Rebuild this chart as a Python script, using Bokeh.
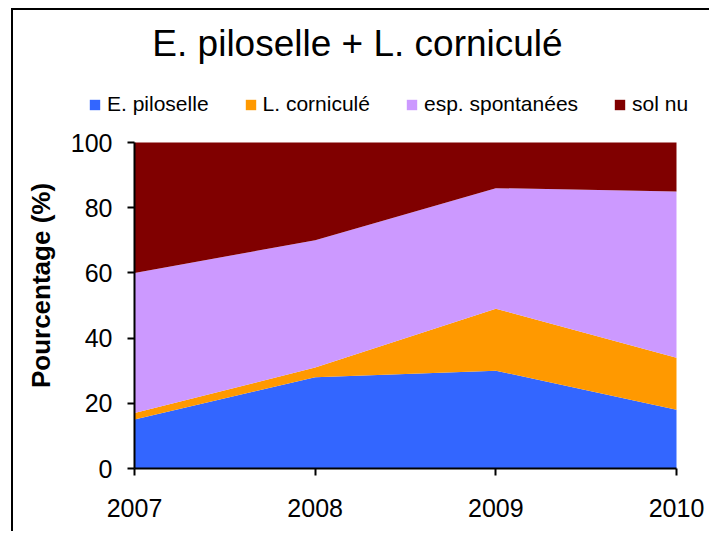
from bokeh.plotting import figure
from bokeh.models import ColumnDataSource, Range1d, Label
from bokeh.embed import file_html
from bokeh.resources import INLINE
import math

# ---- data ----
years = [2007, 2008, 2009, 2010]
piloselle = [15, 28, 30, 18]
lotier = [2, 3, 19, 16]
spontanees = [43, 39, 37, 51]
sol_nu = [40, 30, 14, 15]
series_names = ["E. piloselle", "L. corniculé", "esp. spontanées", "sol nu"]
series_keys = ["piloselle", "lotier", "spontanees", "sol_nu"]
colors = ["#3366FF", "#FF9900", "#CC99FF", "#800000"]
y_ticks = [0, 20, 40, 60, 80, 100]
y_min, y_max = 0, 100
title_text = "E. piloselle + L. corniculé"
y_label = "Pourcentage (%)"

FONT = "Liberation Sans"

# ---- layout (pixels on the canvas; the frame covers the whole canvas) ----
W, H = 698, 523
AX_LEFT, AX_RIGHT = 121, 663   # where the first / last year sit
AX_TOP, AX_BOTTOM = 132, 458   # where y = 100 / y = 0 sit
px_per_year = (AX_RIGHT - AX_LEFT) / (years[-1] - years[0])
px_per_unit = (AX_BOTTOM - AX_TOP) / (y_max - y_min)

x_start = years[0] - AX_LEFT / px_per_year
x_end = years[-1] + (W - AX_RIGHT) / px_per_year
y_start = y_min - (H - AX_BOTTOM) / px_per_unit
y_end = y_min + AX_BOTTOM / px_per_unit


def y_at(py):
    """data y of a canvas pixel row"""
    return y_min + (AX_BOTTOM - py) / px_per_unit


source = ColumnDataSource(dict(x=years, piloselle=piloselle, lotier=lotier,
                               spontanees=spontanees, sol_nu=sol_nu))

p = figure(width=W, height=H,
           x_range=Range1d(x_start, x_end), y_range=Range1d(y_start, y_end),
           output_backend="svg", toolbar_location=None,
           min_border_left=0, min_border_right=0,
           min_border_top=0, min_border_bottom=0,
           styles={"margin-left": "11px", "margin-top": "8px",
                   "border-left": "2px solid black",
                   "border-top": "2px solid black"})

p.varea_stack(stackers=series_keys, x="x", color=colors, source=source,
              legend_label=series_names)

# axes
for ax in (p.xaxis[0], p.yaxis[0]):
    ax.axis_line_color = "black"
    ax.axis_line_width = 2
    ax.major_tick_line_color = "black"
    ax.major_tick_line_width = 2
    ax.major_tick_out = 7
    ax.major_tick_in = 0
    ax.minor_tick_line_color = None
    ax.major_label_text_font = FONT
    ax.major_label_text_color = "black"
    ax.major_label_text_font_size = "25px"

p.xaxis.ticker = years
p.xaxis.bounds = (years[0], years[-1])
p.xaxis.fixed_location = y_min
p.xaxis.major_label_standoff = 23

p.yaxis.ticker = y_ticks
p.yaxis.bounds = (y_min, y_max)
p.yaxis.fixed_location = years[0]
p.yaxis.major_label_standoff = 15

p.xgrid.grid_line_color = None
p.ygrid.grid_line_color = None
p.outline_line_color = None

# title
p.add_layout(Label(x=344, y=y_at(32.5), x_units="screen", y_units="data",
                   text=title_text, text_align="center", text_baseline="middle",
                   text_font=FONT, text_font_size="37px", text_color="black"))

# y axis title
p.add_layout(Label(x=27, y=y_at(275), x_units="screen", y_units="data",
                   text=y_label, angle=math.pi / 2, text_align="center",
                   text_baseline="middle", text_font=FONT, text_font_size="26px",
                   text_font_style="bold", text_color="black"))

# legend (location measured from the bottom-left of the frame)
leg = p.legend[0]
leg.orientation = "horizontal"
leg.location = (75, H - 106)
leg.border_line_color = None
leg.background_fill_alpha = 0
leg.padding = 0
leg.margin = 0
leg.spacing = 35
leg.label_standoff = 6
leg.glyph_width = 13
leg.glyph_height = 13
leg.label_text_font = FONT
leg.label_text_font_size = "21px"
leg.label_text_color = "black"

open("out.html", "w").write(file_html(p, INLINE))
